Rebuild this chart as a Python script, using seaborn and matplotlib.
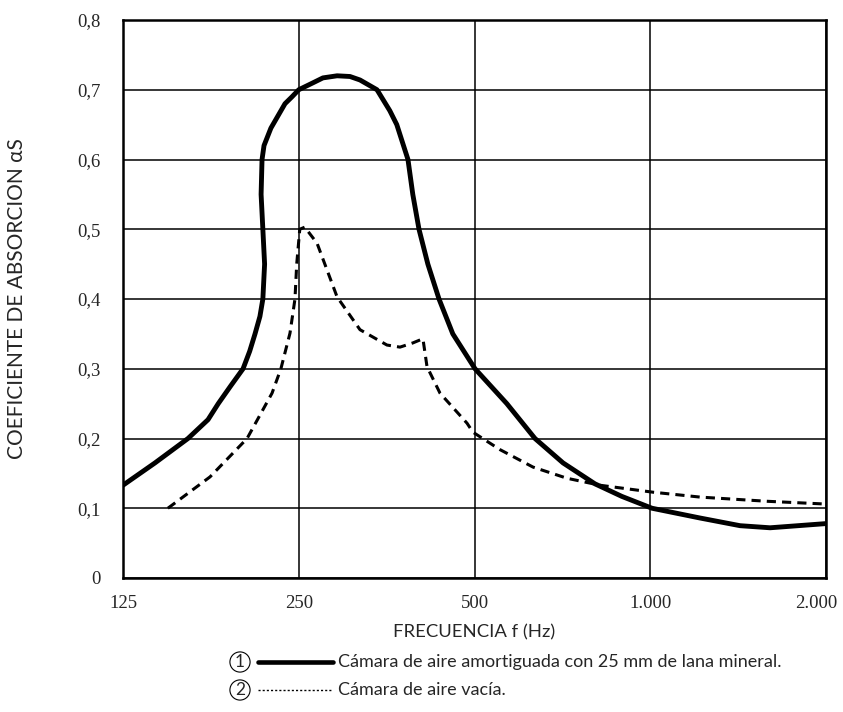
import seaborn as sns
import matplotlib.pyplot as plt
import matplotlib.transforms as mtransforms
import pandas as pd
from matplotlib.lines import Line2D

# Datos (frecuencia en Hz, coeficiente de absorción)
frec_lana = [125, 141.8, 161.5, 174.8, 182, 191, 200.7, 206, 210.4, 214.5, 217, 218.5,
             217, 215.5, 216.3, 218, 224, 229.4, 236.8, 243.5, 250, 264.5, 275, 290.8,
             306, 318.3, 340.4, 358, 368, 384.6, 392, 401.7, 416, 434.7, 459, 501,
             568, 634.7, 709, 804, 894, 1007, 1217, 1425, 1604, 2000]
alfa_lana = [0.133, 0.165, 0.2, 0.227, 0.25, 0.275, 0.3, 0.325, 0.35, 0.375, 0.4, 0.45,
             0.5, 0.55, 0.6, 0.62, 0.645, 0.66, 0.68, 0.69, 0.70, 0.71, 0.717, 0.72,
             0.719, 0.714, 0.70, 0.67, 0.65, 0.6, 0.55, 0.5, 0.45, 0.4, 0.35, 0.3,
             0.25, 0.2, 0.165, 0.135, 0.117, 0.1, 0.086, 0.075, 0.072, 0.078]

frec_vacia = [149.2, 176.2, 203.9, 225, 233, 241.5, 246.3, 248, 251, 256, 268.7,
              290.8, 318.3, 354, 372.7, 392, 408, 414.6, 436.4, 485.4, 497, 553,
              629.8, 720, 820, 1011, 1217, 1585, 2000]
alfa_vacia = [0.1, 0.145, 0.2, 0.265, 0.3, 0.351, 0.4, 0.45, 0.5, 0.503, 0.48,
              0.403, 0.356, 0.334, 0.331, 0.337, 0.343, 0.303, 0.265, 0.222, 0.209, 0.184,
              0.159, 0.143, 0.133, 0.123, 0.116, 0.110, 0.106]

xticks = [125, 250, 500, 1000, 2000]
xticklabels = ["125", "250", "500", "1.000", "2.000"]
yticks = [0, 0.1, 0.2, 0.3, 0.4, 0.5, 0.6, 0.7, 0.8]
yticklabels = ["0", "0,1", "0,2", "0,3", "0,4", "0,5", "0,6", "0,7", "0,8"]

df_lana = pd.DataFrame({"f": frec_lana, "a": alfa_lana})
df_vacia = pd.DataFrame({"f": frec_vacia, "a": alfa_vacia})

sns.set_style("white")
plt.rcParams['font.family'] = ['Lato', 'DejaVu Sans']

fig = plt.figure(figsize=(8.43, 7.12), dpi=100)
ax = fig.add_axes([123 / 843, 134 / 712, 703 / 843, 558 / 712])

sns.lineplot(data=df_lana, x="f", y="a", sort=False, estimator=None,
             color="black", linewidth=3.5, ax=ax)
sns.lineplot(data=df_vacia, x="f", y="a", sort=False, estimator=None,
             color="black", linewidth=2.2, ax=ax)
ax.lines[0].set_solid_joinstyle("round")
ax.lines[1].set_dashes([3, 2])

ax.set_xscale("log", base=2)
ax.set_xlim(125, 2000)
ax.set_ylim(0, 0.8)
ax.set_xticks(xticks)
ax.set_xticklabels(xticklabels)
ax.minorticks_off()
ax.set_yticks(yticks)
ax.set_yticklabels(yticklabels)
for lab in ax.get_xticklabels() + ax.get_yticklabels():
    lab.set_family("Liberation Serif")
    lab.set_fontsize(13.5)
ax.tick_params(axis="both", length=0)
ax.tick_params(axis="y", pad=16)
ax.tick_params(axis="x", pad=12)
# la última etiqueta un poco hacia dentro, como en el original
ultima = ax.get_xticklabels()[-1]
ultima.set_transform(ultima.get_transform() +
                     mtransforms.ScaledTranslation(-10 / 100, 0, fig.dpi_scale_trans))

ax.grid(True, color="black", linewidth=1.1)
for s in ax.spines.values():
    s.set_color("black")
    s.set_linewidth(1.8)

ax.set_xlabel("FRECUENCIA f (Hz)", fontsize=13.3)
ax.set_ylabel("COEFICIENTE DE ABSORCION αS", fontsize=15)
ax.xaxis.set_label_coords(0.5, -0.083)
ax.yaxis.set_label_coords(-0.137, 0.5)

# Leyenda en la parte inferior
filas = [(662, "1", "-", 3.3, "Cámara de aire amortiguada con 25 mm de lana mineral."),
         (690, "2", (0, (1.5, 1.5)), 1.0, "Cámara de aire vacía.")]
for py, num, ls, lw, texto in filas:
    yf = (712 - py) / 712
    fig.text(240 / 843, yf, num, ha="center", va="center", fontsize=12.5,
             bbox=dict(boxstyle="circle,pad=0.12", fc="white", ec="black", lw=0.8))
    fig.add_artist(Line2D([258 / 843, 333 / 843], [yf, yf], color="black",
                          linewidth=lw, linestyle=ls, transform=fig.transFigure))
    fig.text(338 / 843, yf, texto, ha="left", va="center", fontsize=13)

fig.savefig("out.png", dpi=100)
